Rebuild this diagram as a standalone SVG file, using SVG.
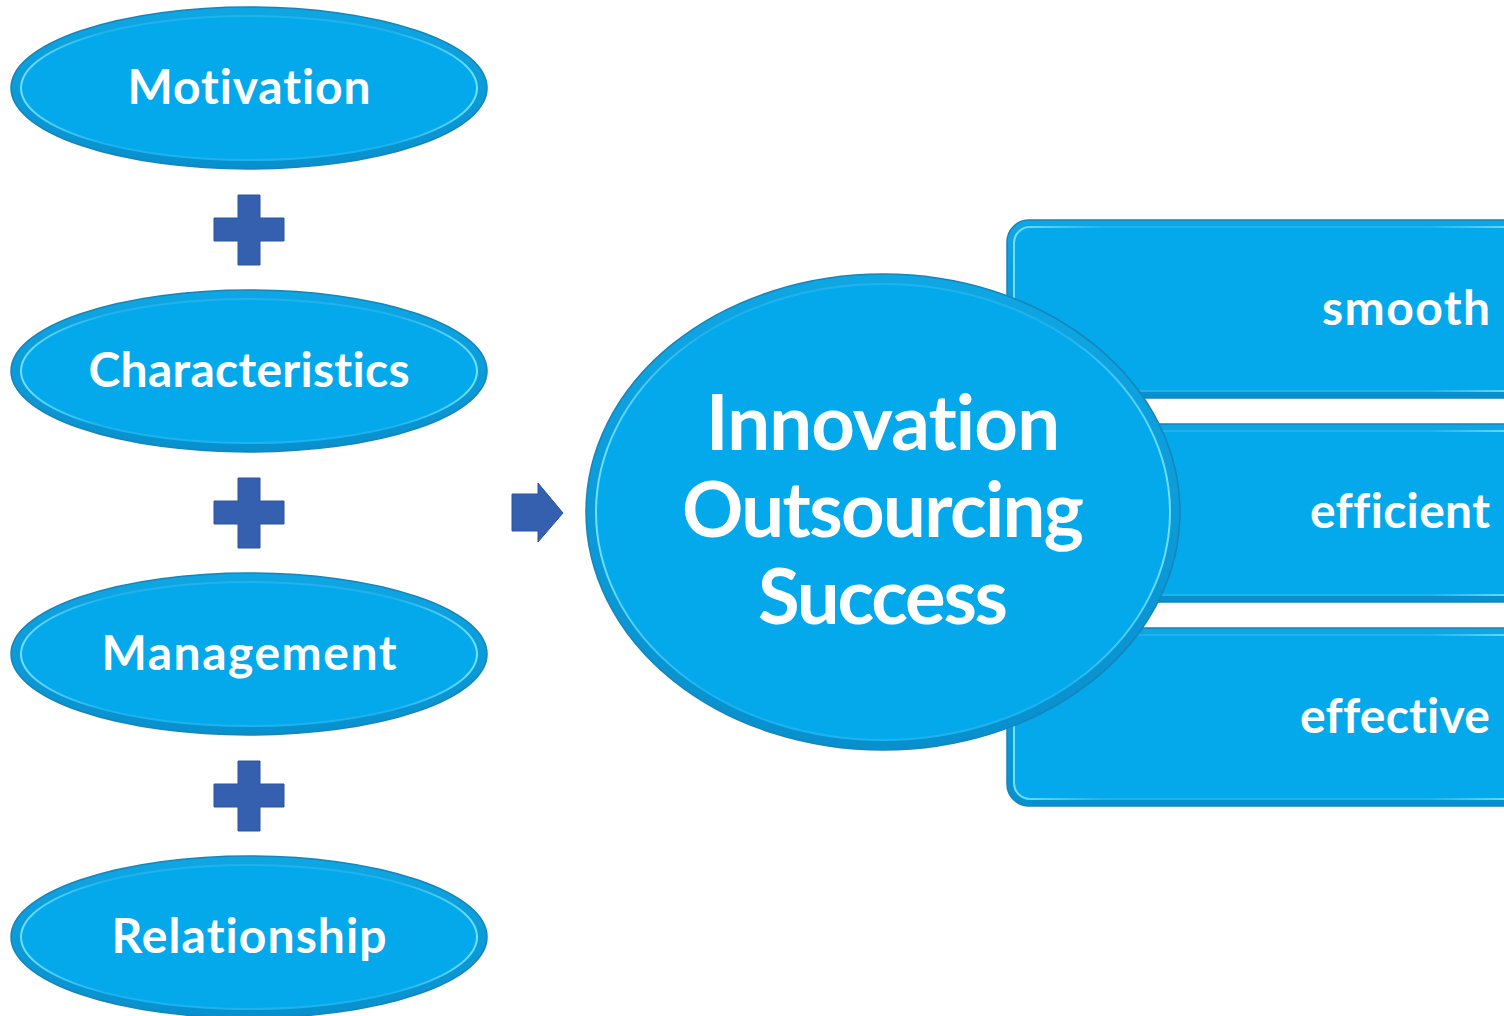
<svg xmlns="http://www.w3.org/2000/svg" width="1504" height="1016" viewBox="0 0 1504 1016">
  <defs>
    <linearGradient id="rimV" x1="0" y1="0" x2="0" y2="1">
      <stop offset="0" stop-color="#0FA6E4"/>
      <stop offset="1" stop-color="#0890CE"/>
    </linearGradient>
    <linearGradient id="hiH" x1="0" y1="0" x2="1" y2="0">
      <stop offset="0" stop-color="#70E0FC"/>
      <stop offset="0.18" stop-color="#1FB3EE"/>
      <stop offset="0.82" stop-color="#1FB3EE"/>
      <stop offset="1" stop-color="#70E0FC"/>
    </linearGradient>
    <style>
      .rim { fill: url(#rimV); stroke: #1685BA; stroke-width: 1.5; }
      .face { fill: #04A9EC; stroke: url(#hiH); stroke-width: 2; }
      .lbl { fill: #FFFFFF; font-family: Lato, "Open Sans", "Liberation Sans", sans-serif; font-weight: 700; font-variant-ligatures: none; font-feature-settings: "liga" 0, "clig" 0; }
      .sm { font-size: 48px; text-anchor: middle; }
      .big { font-size: 76px; text-anchor: middle; }
      .rt { font-size: 48px; text-anchor: end; }
      .sym { fill: #3560B0; stroke: #2D549E; stroke-width: 1; }
    </style>
  </defs>

  <rect width="1504" height="1016" fill="#FFFFFF"/>

  <!-- outcome bars on the right, drawn beneath the central circle -->
  <g id="node-smooth">
    <rect class="rim" x="1007" y="220" width="520" height="178" rx="22"/>
    <rect class="face" x="1014" y="227" width="506" height="164" rx="16"/>
    <text class="lbl rt" x="1490" y="325" textLength="168">smooth</text>
  </g>
  <g id="node-efficient">
    <rect class="rim" x="1007" y="424" width="520" height="178" rx="22"/>
    <rect class="face" x="1014" y="431" width="506" height="164" rx="16"/>
    <text class="lbl rt" x="1490" y="528" textLength="180">efficient</text>
  </g>
  <g id="node-effective">
    <rect class="rim" x="1007" y="628" width="520" height="178" rx="22"/>
    <rect class="face" x="1014" y="635" width="506" height="164" rx="16"/>
    <text class="lbl rt" x="1490" y="733" textLength="190">effective</text>
  </g>

  <!-- central result -->
  <g id="node-success">
    <ellipse class="rim" cx="883" cy="512" rx="297" ry="238"/>
    <ellipse class="face" cx="883" cy="512" rx="287" ry="228"/>
    <text class="lbl big" x="883" y="450" textLength="354">Innovation</text>
    <text class="lbl big" x="883" y="537" textLength="402">Outsourcing</text>
    <text class="lbl big" x="883" y="624" textLength="250">Success</text>
  </g>

  <!-- input factors -->
  <g id="node-motivation">
    <ellipse class="rim" cx="249" cy="88" rx="238" ry="81"/>
    <ellipse class="face" cx="249" cy="88" rx="228" ry="72"/>
    <text class="lbl sm" x="249" y="104" textLength="243">Motivation</text>
  </g>
  <g id="node-characteristics">
    <ellipse class="rim" cx="249" cy="371" rx="238" ry="81"/>
    <ellipse class="face" cx="249" cy="371" rx="228" ry="72"/>
    <text class="lbl sm" x="249" y="387" textLength="321">Characteristics</text>
  </g>
  <g id="node-management">
    <ellipse class="rim" cx="249" cy="654" rx="238" ry="81"/>
    <ellipse class="face" cx="249" cy="654" rx="228" ry="72"/>
    <text class="lbl sm" x="249" y="670" textLength="295">Management</text>
  </g>
  <g id="node-relationship">
    <ellipse class="rim" cx="249" cy="937" rx="238" ry="81"/>
    <ellipse class="face" cx="249" cy="937" rx="228" ry="72"/>
    <text class="lbl sm" x="249" y="953" textLength="275">Relationship</text>
  </g>

  <!-- plus signs joining the factors and the arrow into the result -->
  <g id="connectors">
    <path class="sym" d="M238 195h22v23h24v23h-24v24h-22v-24h-24v-23h24z"/>
    <path class="sym" d="M238 478h22v23h24v23h-24v24h-22v-24h-24v-23h24z"/>
    <path class="sym" d="M238 761h22v23h24v23h-24v24h-22v-24h-24v-23h24z"/>
    <path class="sym" d="M512 494h26v-11l25 30l-25 29v-11h-26z"/>
  </g>
</svg>
